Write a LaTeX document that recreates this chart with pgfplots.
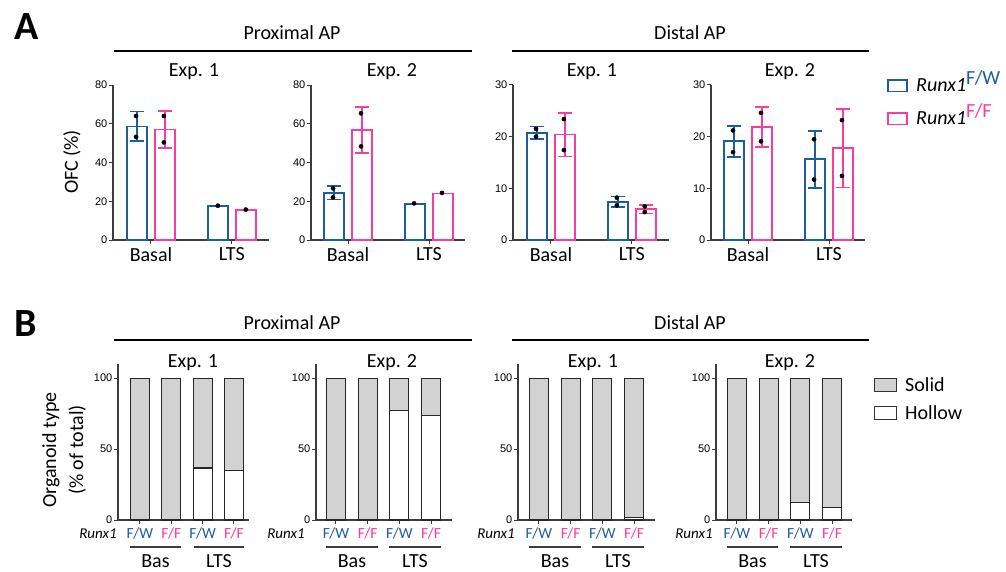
\documentclass[border=0pt]{standalone}
\usepackage{pgfplots}
\pgfplotsset{compat=1.18}
\usepackage{fontspec}
\setmainfont{Carlito}
\newfontfamily\arial{Liberation Sans}
\definecolor{cblue}{RGB}{30,94,158}
\definecolor{cpink}{RGB}{250,60,155}
\definecolor{sgray}{RGB}{210,210,210}
\definecolor{axc}{RGB}{60,60,60}
\pgfplotsset{
  base/.style={scale only axis, anchor=south west, axis x line=bottom, axis y line=left,
    axis line style={-, axc, line width=1.2pt}, tick align=outside, major tick length=4pt,
    every tick/.style={axc, line width=1pt}, ymin=0, clip=false,
    /pgf/number format/assume math mode=true,
    yticklabel style={font=\arial\fontsize{11}{13}\selectfont, inner sep=1.5pt},
    xticklabel style={font=\fontsize{20}{24}\selectfont}},
  Aax/.style={base, width=156pt, height=155pt, xmin=-0.47, xmax=1.46, xtick={0,1}, xticklabels={Basal,LTS}},
  Aax2/.style={base, width=154pt, height=155pt, xmin=-0.457, xmax=1.444, xtick={0,1}, xticklabels={Basal,LTS}},
  Bax/.style={base, height=156pt, ymax=110, ytick={0,50,100}, xtick={0,1,2,3},
    xticklabels={{\textcolor{cblue}{F/W}},{\textcolor{cpink}{F/F}},{\textcolor{cblue}{F/W}},{\textcolor{cpink}{F/F}}},
    xticklabel style={font=\fontsize{15.5}{18}\selectfont}, ybar stacked, bar width=19pt},
  fw/.style={ybar, bar width=20pt, bar shift=-14pt, draw=cblue, fill=white, line width=1.8pt},
  ff/.style={ybar, bar width=20pt, bar shift=14pt, draw=cpink, fill=white, line width=1.8pt},
  eb/.style={draw=none, mark=none, forget plot,
    /pgfplots/error bars/y dir=both, /pgfplots/error bars/y explicit,
    /pgfplots/error bars/error mark=|,
    /pgfplots/error bars/error bar style={draw=#1, line width=1.5pt, solid},
    /pgfplots/error bars/error mark options={draw=#1, mark size=6.8pt, line width=1.5pt, solid}},
  dots/.style={only marks, mark=*, mark size=2.1pt, draw=black, fill=black, mark options={draw=black, fill=black}},
  hol/.style={fill=white, draw=black!85, line width=1.1pt},
  sol/.style={fill=sgray, draw=black!85, line width=1.1pt},
}
\begin{document}
\begin{tikzpicture}
\path[use as bounding box] (0pt,0pt) rectangle (1006pt,-572pt);
% ---------- Panel letters and headers
\node[anchor=base west, font=\bfseries\fontsize{40}{44}\selectfont] at (11pt,-40pt) {A};
\node[anchor=base west, font=\bfseries\fontsize{40}{44}\selectfont] at (11pt,-336pt) {B};
\begin{scope}[font=\fontsize{20}{24}\selectfont]
\node[anchor=base] at (292pt,-40pt) {Proximal AP};
\node[anchor=base] at (690pt,-40pt) {Distal AP};
\draw[line width=1.3pt] (114pt,-51pt) -- (472pt,-51pt);
\draw[line width=1.3pt] (512pt,-51pt) -- (869pt,-51pt);
\node[anchor=base] at (292pt,-329pt) {Proximal AP};
\node[anchor=base] at (690pt,-329pt) {Distal AP};
\draw[line width=1.3pt] (114pt,-340pt) -- (472pt,-340pt);
\draw[line width=1.3pt] (512pt,-340pt) -- (869pt,-340pt);
\node[anchor=base] at (194pt,-77pt) {Exp. 1};
\node[anchor=base] at (392pt,-77pt) {Exp. 2};
\node[anchor=base] at (592pt,-77pt) {Exp. 1};
\node[anchor=base] at (790pt,-77pt) {Exp. 2};
\node[anchor=base] at (193pt,-367pt) {Exp. 1};
\node[anchor=base] at (392pt,-367pt) {Exp. 2};
\node[anchor=base] at (593pt,-367pt) {Exp. 1};
\node[anchor=base] at (790pt,-367pt) {Exp. 2};
\node[rotate=90] at (72pt,-162pt) {OFC (\%)};
\node[rotate=90, align=center] at (64pt,-450pt) {Organoid type\\[3pt](\% of total)};
% legend A
\draw[cblue, line width=1.8pt] (888pt,-80pt) rectangle (907pt,-91.5pt);
\node[anchor=base west, inner sep=0pt] at (916pt,-92pt) {\itshape Runx1\raisebox{7pt}{\upshape\textcolor{cblue}{F/W}}};
\draw[cpink, line width=1.8pt] (888pt,-113pt) rectangle (907pt,-124.5pt);
\node[anchor=base west, inner sep=0pt] at (916pt,-125pt) {\itshape Runx1\raisebox{7pt}{\upshape\textcolor{cpink}{F/F}}};
% legend B
\draw[fill=sgray, draw=black!80, line width=1pt] (874.5pt,-378.5pt) rectangle (896.5pt,-391.5pt);
\node[anchor=base west, inner sep=0pt] at (905pt,-391.5pt) {Solid};
\draw[fill=white, draw=black!80, line width=1pt] (874.5pt,-406pt) rectangle (896.5pt,-419pt);
\node[anchor=base west, inner sep=0pt] at (905pt,-419pt) {Hollow};
% B group labels
\node[anchor=base] at (155.5pt,-567pt) {Bas};
\node[anchor=base] at (219pt,-567pt) {LTS};
\node[anchor=base] at (352pt,-567pt) {Bas};
\node[anchor=base] at (415pt,-567pt) {LTS};
\node[anchor=base] at (555pt,-567pt) {Bas};
\node[anchor=base] at (618pt,-567pt) {LTS};
\node[anchor=base] at (752.5pt,-567pt) {Bas};
\node[anchor=base] at (816pt,-567pt) {LTS};
\end{scope}
\begin{scope}[axc, line width=1.4pt]
\draw (130pt,-547pt) -- (181pt,-547pt); \draw (194pt,-547pt) -- (244pt,-547pt);
\draw (326pt,-547pt) -- (378pt,-547pt); \draw (389pt,-547pt) -- (441pt,-547pt);
\draw (529pt,-547pt) -- (581pt,-547pt); \draw (592pt,-547pt) -- (644pt,-547pt);
\draw (727pt,-547pt) -- (778pt,-547pt); \draw (790pt,-547pt) -- (842pt,-547pt);
\end{scope}
\begin{scope}[font=\itshape\fontsize{15}{18}\selectfont]
\node[anchor=east, inner sep=0pt] at (117pt,-534pt) {Runx1};
\node[anchor=east, inner sep=0pt] at (305pt,-534pt) {Runx1};
\node[anchor=east, inner sep=0pt] at (515pt,-534pt) {Runx1};
\node[anchor=east, inner sep=0pt] at (713pt,-534pt) {Runx1};
\end{scope}
% ---------- Panel A
\begin{axis}[Aax, at={(113pt,-240pt)}, ymax=80, ytick={0,20,40,60,80}]
\addplot[fw] coordinates {(0,58.6) (1,17.4)};
\addplot[ff] coordinates {(0,57.0) (1,15.4)};
\addplot[eb=cblue] coordinates {(-0.173,58.6) +- (0,7.6)};
\addplot[eb=cpink] coordinates {(0.173,57.0) +- (0,9.6)};
\addplot[dots] coordinates {(-0.185,64.0) (-0.185,53.2) (0.16,64.0) (0.16,50.4) (0.827,17.7) (1.173,15.7)};
\end{axis}
\begin{axis}[Aax2, at={(311pt,-240pt)}, ymax=80, ytick={0,20,40,60,80}]
\addplot[fw] coordinates {(0,24.3) (1,18.5)};
\addplot[ff] coordinates {(0,56.7) (1,24.0)};
\addplot[eb=cblue] coordinates {(-0.173,24.3) +- (0,3.5)};
\addplot[eb=cpink] coordinates {(0.173,56.7) +- (0,11.9)};
\addplot[dots] coordinates {(-0.185,26.7) (-0.185,22.0) (0.16,65.4) (0.16,48.3) (0.815,18.9) (1.16,24.3)};
\end{axis}
\begin{axis}[Aax, at={(513pt,-240pt)}, ymax=30, ytick={0,10,20,30}]
\addplot[fw] coordinates {(0,20.75) (1,7.4)};
\addplot[ff] coordinates {(0,20.4) (1,5.95)};
\addplot[eb=cblue] coordinates {(-0.173,20.75) +- (0,1.2) (0.827,7.4) +- (0,1.05)};
\addplot[eb=cpink] coordinates {(0.173,20.4) +- (0,4.2) (1.173,5.95) +- (0,0.8)};
\addplot[dots] coordinates {(-0.185,21.5) (-0.185,20.0) (0.16,23.4) (0.16,17.4) (0.815,8.2) (0.815,6.7) (1.16,6.5) (1.16,5.4)};
\end{axis}
\begin{axis}[Aax2, at={(711pt,-240pt)}, ymax=30, ytick={0,10,20,30}]
\addplot[fw] coordinates {(0,19.1) (1,15.6)};
\addplot[ff] coordinates {(0,21.85) (1,17.8)};
\addplot[eb=cblue] coordinates {(-0.173,19.1) +- (0,3.0) (0.827,15.6) +- (0,5.5)};
\addplot[eb=cpink] coordinates {(0.173,21.85) +- (0,3.85) (1.173,17.8) +- (0,7.6)};
\addplot[dots] coordinates {(-0.185,21.2) (-0.185,17.0) (0.16,24.6) (0.16,19.1) (0.815,19.5) (0.815,11.7) (1.16,23.2) (1.16,12.4)};
\end{axis}
% ---------- Panel B
\begin{axis}[Bax, at={(118pt,-520pt)}, width=131pt, xmin=-0.70, xmax=3.48]
\addplot[hol] coordinates {(0,0) (1,0) (2,36.7) (3,35.2)};
\addplot[sol] coordinates {(0,100) (1,100) (2,63.3) (3,64.8)};
\end{axis}
\begin{axis}[Bax, at={(316pt,-520pt)}, width=136pt, xmin=-0.63, xmax=3.66]
\addplot[hol] coordinates {(0,0) (1,0) (2,77.5) (3,74.0)};
\addplot[sol] coordinates {(0,100) (1,100) (2,22.5) (3,26.0)};
\end{axis}
\begin{axis}[Bax, at={(518pt,-520pt)}, width=137pt, xmin=-0.66, xmax=3.66]
\addplot[hol] coordinates {(0,0) (1,0) (2,0.5) (3,2.0)};
\addplot[sol] coordinates {(0,100) (1,100) (2,99.5) (3,98.0)};
\end{axis}
\begin{axis}[Bax, at={(716pt,-520pt)}, width=136pt, xmin=-0.66, xmax=3.63]
\addplot[hol] coordinates {(0,0) (1,0) (2,12.5) (3,9.0)};
\addplot[sol] coordinates {(0,100) (1,100) (2,87.5) (3,91.0)};
\end{axis}
\end{tikzpicture}
\end{document}
